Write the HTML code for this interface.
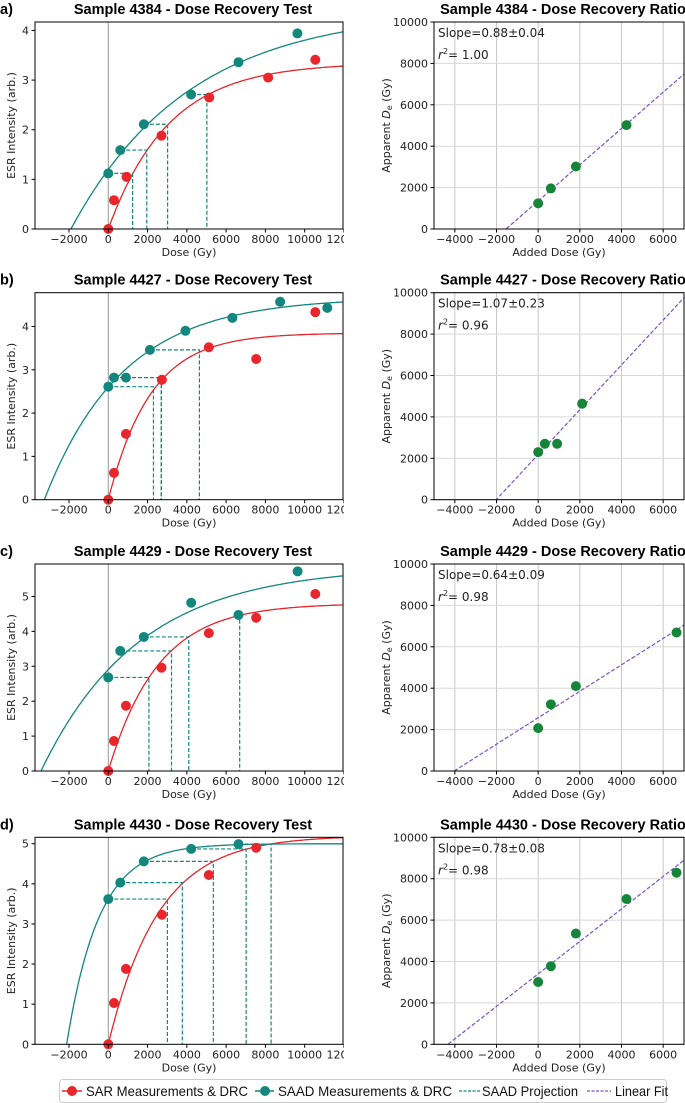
<!DOCTYPE html>
<html><head><meta charset="utf-8"><style>
html,body{margin:0;padding:0;background:#fff;}
svg{display:block;font-family:"DejaVu Sans","Liberation Sans",sans-serif;}
.t{font-family:"Liberation Sans",sans-serif;font-weight:bold;font-size:14.5px;}
.lg{font-family:"Liberation Sans",sans-serif;font-size:14px;fill:#111;}
</style></head><body>
<svg id="fig" width="685" height="1103" viewBox="0 0 685 1103" xmlns="http://www.w3.org/2000/svg">
<defs><clipPath id="leftclip"><rect x="0" y="0" width="344" height="1103"/></clipPath></defs>
<g id="root"></g>
<g>
  <rect x="59.5" y="1079.5" width="607" height="23" rx="3" fill="#fff" stroke="#ccc"/>
  <g><line x1="62" y1="1091" x2="82" y2="1091" stroke="#e8262b" stroke-width="1.5"/><circle cx="72" cy="1091" r="5" fill="#e8262b"/><text class="lg" x="86" y="1096" textLength="162" lengthAdjust="spacingAndGlyphs">SAR Measurements &amp; DRC</text></g>
  <g><line x1="255" y1="1091" x2="274" y2="1091" stroke="#13877e" stroke-width="1.5"/><circle cx="265" cy="1091" r="5" fill="#13877e"/><text class="lg" x="278" y="1096" textLength="174" lengthAdjust="spacingAndGlyphs">SAAD Measurements &amp; DRC</text></g>
  <g><line x1="459" y1="1091" x2="480" y2="1091" stroke="#13877e" stroke-width="1.2" stroke-dasharray="3,1.5"/><text class="lg" x="482" y="1096" textLength="96" lengthAdjust="spacingAndGlyphs">SAAD Projection</text></g>
  <g><line x1="587" y1="1091" x2="611" y2="1091" stroke="#7b52c7" stroke-width="1.2" stroke-dasharray="3,1.5"/><text class="lg" x="615" y="1096" textLength="53" lengthAdjust="spacingAndGlyphs">Linear Fit</text></g>
</g>
</svg>
<script>
// ---- data ----
const samples = ["4384","4427","4429","4430"];
const panelLetters = ["a)","b)","c)","d)"];
const sarDose = [[0,290,930,2710,5140,8140,10540],[0,290,900,2730,5120,7530,10540],[0,290,900,2710,5120,7530,10540],[0,290,900,2730,5120,7530]];
const sarInt  = [[0,0.58,1.05,1.88,2.65,3.05,3.41],[0,0.62,1.52,2.77,3.52,3.25,4.33],[0,0.86,1.87,2.96,3.95,4.39,5.07],[0,1.03,1.88,3.23,4.22,4.90]];
const saadDose = [[0,610,1810,4220,6630,9630],[0,290,900,2120,3930,6320,8750,11150],[0,610,1810,4220,6630,9640],[0,610,1810,4220,6630]];
const saadInt  = [[1.12,1.59,2.11,2.71,3.36,3.94],[2.61,2.82,2.82,3.46,3.90,4.20,4.57,4.43],[2.68,3.44,3.84,4.82,4.47,5.72],[3.62,4.03,4.56,4.87,4.99]];
// fitted DRC parameters: I = A*(1-exp(-(D+D0)/Dc))
const sarA = [3.35,3.85,4.8,5.2];
const sarDc = [3077,2144,2536,2563];
const saadA = [4.41,4.67,5.86,5.0];
const saadDc = [6000,4000,5000,1646];
const saadD0 = [1900,3254,3424,2119];
// recovery ratio data
const addedDose = [[0,610,1810,4240],[0,320,910,2110],[0,610,1810,6640],[0,610,1810,4240,6640]];
const apparentDe = [[1240,1960,3020,5020],[2300,2700,2700,4640],[2070,3220,4100,6690],[3010,3770,5350,7020,8290]];
const slopeLabels = ["Slope=0.88±0.04","Slope=1.07±0.23","Slope=0.64±0.09","Slope=0.78±0.08"];
const r2Labels = ["1.00","0.96","0.98","0.98"];
const yMaxLeft = [4.17,4.78,5.93,5.16];
const yTicksLeft = [[0,1,2,3,4],[0,1,2,3,4],[0,1,2,3,4,5],[0,1,2,3,4,5]];
const xTicksLeft = [-2000,0,2000,4000,6000,8000,10000,12000];
const xTicksRight = [-4000,-2000,0,2000,4000,6000];
const yTicksRight = [0,2000,4000,6000,8000,10000];

const NS="http://www.w3.org/2000/svg";
const root=document.getElementById('root');
function mk(tag,attrs,parent){const e=document.createElementNS(NS,tag);for(const k in attrs)e.setAttribute(k,attrs[k]);(parent||root).appendChild(e);return e;}
function fmt(v){return v<0?'\u2212'+(-v):''+v;}
const RED="#e8262b",TEAL="#13877e",GREEN="#168539",PURPLE="#7b52c7";
const tops=[22,292.7,564,837.3], H=207;
const LX0=35,LX1=343,RX0=434,RX1=684;

samples.forEach((s,i)=>{
  const top=tops[i],bot=top+H;
  // ---- left panel ----
  const gL=mk('g',{'clip-path':'url(#leftclip)'});
  
  
  const xs=d=>LX0+(d+3730)/(11950+3730)*(LX1-LX0);
  const ys=v=>bot-v/yMaxLeft[i]*H;
  const cid='c'+i;
  const cp=mk('clipPath',{id:cid},gL);mk('rect',{x:LX0,y:top,width:LX1-LX0,height:H},cp);
  const pl=mk('g',{'clip-path':'url(#'+cid+')'},gL);
  mk('line',{x1:xs(0),x2:xs(0),y1:top,y2:bot,stroke:'#999','stroke-width':1},pl);
  let p1='',p2='';
  for(let d=0;d<=12000;d+=100){const v=sarA[i]*(1-Math.exp(-d/sarDc[i]));p1+=(d?'L':'M')+xs(d).toFixed(1)+','+ys(v).toFixed(1);}
  for(let d=-saadD0[i];d<=12000;d+=100){const v=saadA[i]*(1-Math.exp(-(d+saadD0[i])/saadDc[i]));p2+=(p2?'L':'M')+xs(d).toFixed(1)+','+ys(v).toFixed(1);}
  const c1=mk('path',{d:p1,fill:'none',stroke:RED,'stroke-width':1.3},pl);
  
  const c2=mk('path',{d:p2,fill:'none',stroke:TEAL,'stroke-width':1.3},pl);
  
  addedDose[i].forEach((ad,j)=>{
    const k=saadDose[i].indexOf(saadDose[i].reduce((a,b)=>Math.abs(b-ad)<Math.abs(a-ad)?b:a));
    const yv=saadInt[i][k], de=apparentDe[i][j];
    const pr=mk('path',{d:`M${xs(saadDose[i][k])},${ys(yv)}H${xs(de)}V${bot}`,fill:'none',stroke:TEAL,'stroke-width':1.2,'stroke-dasharray':'4,2'},pl);
    
  });
  sarDose[i].forEach((d,j)=>{const c=mk('circle',{cx:xs(d),cy:ys(sarInt[i][j]),r:5,fill:RED},gL);
    });
  saadDose[i].forEach((d,j)=>{const c=mk('circle',{cx:xs(d),cy:ys(saadInt[i][j]),r:5,fill:TEAL},gL);
    });
  mk('rect',{x:LX0,y:top,width:LX1-LX0,height:H,fill:'none',stroke:'#000','stroke-width':1},gL);
  xTicksLeft.forEach(t=>{const x=xs(t);mk('line',{x1:x,x2:x,y1:bot,y2:bot+3.5,stroke:'#000'},gL);
    const tx=mk('text',{x:x,y:bot+14,'font-size':11,'text-anchor':'middle',fill:'#222'},gL);tx.textContent=fmt(t);
    });
  yTicksLeft[i].forEach(t=>{const y=ys(t);mk('line',{x1:LX0-3.5,x2:LX0,y1:y,y2:y,stroke:'#000'},gL);
    const tx=mk('text',{x:LX0-6,y:y+4,'font-size':11,'text-anchor':'end',fill:'#222'},gL);tx.textContent=t;
    });
  const xl=mk('text',{x:(LX0+LX1)/2,y:bot+27,'font-size':11,'text-anchor':'middle',fill:'#222'},gL);xl.textContent='Dose (Gy)';
  
  const yl=mk('text',{x:0,y:0,'font-size':11,'text-anchor':'middle',fill:'#222',transform:`translate(15,${top+H/2}) rotate(-90)`},gL);yl.textContent='ESR Intensity (arb.)';
  
  const tl=mk('text',{x:(LX0+LX1)/2+4,y:top-8,'text-anchor':'middle',class:'t'},gL);tl.textContent='Sample '+s+' - Dose Recovery Test';
  
  const pla=mk('text',{x:0,y:top-8,class:'t'});pla.textContent=panelLetters[i];
  

  // ---- right panel ----
  const gR=mk('g',{});
  
  
  const rx=d=>RX0+(d+5000)/12000*(RX1-RX0);
  const ry=v=>bot-v/10000*H;
  xTicksRight.forEach(t=>mk('line',{x1:rx(t),x2:rx(t),y1:top,y2:bot,stroke:'#c8c8c8','stroke-width':1},gR));
  yTicksRight.forEach(t=>mk('line',{x1:RX0,x2:RX1,y1:ry(t),y2:ry(t),stroke:'#d8d8d8','stroke-width':1},gR));
  const X=addedDose[i],Y=apparentDe[i],n=X.length;
  const mx=X.reduce((a,b)=>a+b,0)/n,my=Y.reduce((a,b)=>a+b,0)/n;
  let sxy=0,sxx=0;X.forEach((x,j)=>{sxy+=(x-mx)*(Y[j]-my);sxx+=(x-mx)*(x-mx);});
  const m=sxy/sxx,b=my-m*mx;
  const rcid='r'+i;const rcp=mk('clipPath',{id:rcid},gR);mk('rect',{x:RX0,y:top,width:RX1-RX0,height:H},rcp);
  const fl=mk('line',{x1:rx(-5000),y1:ry(m*-5000+b),x2:rx(7000),y2:ry(m*7000+b),stroke:PURPLE,'stroke-width':1.2,'stroke-dasharray':'4,2','clip-path':'url(#'+rcid+')'},gR);
  
  X.forEach((x,j)=>{const c=mk('circle',{cx:rx(x),cy:ry(Y[j]),r:5,fill:GREEN},gR);
    });
  mk('rect',{x:RX0,y:top,width:RX1-RX0,height:H,fill:'none',stroke:'#000','stroke-width':1},gR);
  xTicksRight.forEach(t=>{const x=rx(t);mk('line',{x1:x,x2:x,y1:bot,y2:bot+3.5,stroke:'#000'},gR);
    const tx=mk('text',{x:x,y:bot+14,'font-size':11,'text-anchor':'middle',fill:'#222'},gR);tx.textContent=fmt(t);
    });
  yTicksRight.forEach(t=>{const y=ry(t);mk('line',{x1:RX0-3.5,x2:RX0,y1:y,y2:y,stroke:'#000'},gR);
    const tx=mk('text',{x:RX0-6,y:y+4,'font-size':11,'text-anchor':'end',fill:'#222'},gR);tx.textContent=t;
    });
  const rxl=mk('text',{x:(RX0+RX1)/2,y:bot+27,'font-size':11,'text-anchor':'middle',fill:'#222'},gR);rxl.textContent='Added Dose (Gy)';
  
  const ryl=mk('text',{x:0,y:0,'font-size':11,'text-anchor':'middle',fill:'#222',transform:`translate(390,${top+H/2}) rotate(-90)`},gR);
  ryl.innerHTML='Apparent <tspan font-style="italic">D</tspan><tspan font-size="8" dy="2">e</tspan><tspan dy="-2"> (Gy)</tspan>';
  
  const rtl=mk('text',{x:(RX0+RX1)/2+4,y:top-8,'text-anchor':'middle',class:'t'},gR);rtl.textContent='Sample '+s+' - Dose Recovery Ratio';
  
  const sl=mk('text',{x:438,y:top+15,'font-size':12,fill:'#222'},gR);sl.textContent=slopeLabels[i];
  
  const r2=mk('text',{x:438,y:top+37,'font-size':12,fill:'#222'},gR);
  r2.innerHTML='<tspan font-style="italic">r</tspan><tspan font-size="8" dy="-5">2</tspan><tspan dy="5">= '+r2Labels[i]+'</tspan>';
  
});
</script>
</body></html>
